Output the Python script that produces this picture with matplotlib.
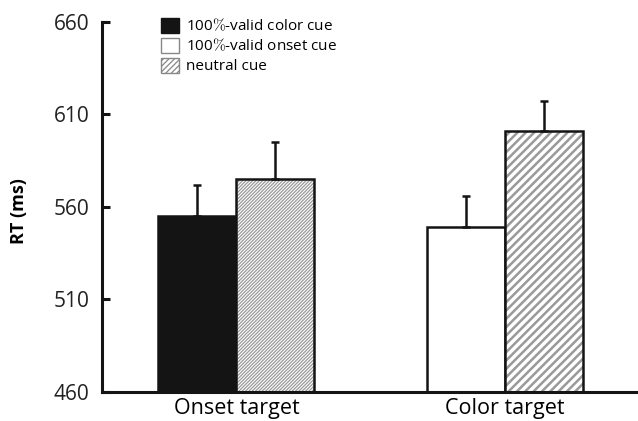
import numpy as np
import matplotlib.pyplot as plt
from matplotlib.patches import Patch

plt.rcParams['font.family'] = ['Open Sans', 'DejaVu Sans']
plt.rcParams['mathtext.fontset'] = 'cm'
plt.rcParams['hatch.linewidth'] = 0.9

# data
targets = ['Onset target', 'Color target']
valid_rt = [555, 549]        # 100%-valid cue (color cue for onset target, onset cue for color target)
valid_err = [17, 17]
neutral_rt = [575, 601]
neutral_err = [20, 16]
legend_labels = [r'100$\%$-valid color cue', r'100$\%$-valid onset cue', 'neutral cue']

fig = plt.figure(figsize=(6.38, 4.21), dpi=100)
ax = fig.add_axes([0.16, 0.069, 0.838, 0.879])

x = np.arange(len(targets))
w = 0.29
bw = 1.8
dark = '#141414'
hatch_col = '#9a9a9a'
base = 460

# valid bars: black for onset target, white for color target
ax.bar(x[0] - w/2, valid_rt[0] - base, w, bottom=base, color=dark, edgecolor=dark, linewidth=bw, zorder=2)
ax.bar(x[1] - w/2, valid_rt[1] - base, w, bottom=base, color='white', edgecolor=dark, linewidth=bw, zorder=2)

# neutral bars: grey hatch, then black outline on top
ax.bar(x[0] + w/2, neutral_rt[0] - base, w, bottom=base, color='white', edgecolor=hatch_col,
       linewidth=0, hatch='//////////', zorder=2)
b2 = ax.bar(x[1] + w/2, neutral_rt[1] - base, w, bottom=base, color='white', edgecolor=hatch_col,
            linewidth=0, hatch='////', zorder=2)
if hasattr(b2.patches[0], 'set_hatch_linewidth'):
    b2.patches[0].set_hatch_linewidth(1.8)
ax.bar(x + w/2, np.array(neutral_rt) - base, w, bottom=base, fill=False, edgecolor=dark,
       linewidth=bw, zorder=2.5)

ax.errorbar(x - w/2, valid_rt, yerr=[np.zeros(2), valid_err], fmt='none', ecolor=dark,
            elinewidth=1.8, capsize=3.2, capthick=1.8, zorder=3)
ax.errorbar(x + w/2, neutral_rt, yerr=[np.zeros(2), neutral_err], fmt='none', ecolor=dark,
            elinewidth=1.8, capsize=3.2, capthick=1.8, zorder=3)

ax.set_xlim(-0.5, 1.49)
ax.set_ylim(base, 660)
ax.set_yticks([460, 510, 560, 610, 660])
ax.set_xticks(x)
ax.set_xticklabels(targets, fontsize=15.5)
ax.tick_params(axis='x', length=0, pad=4)
ax.tick_params(axis='y', direction='in', length=6, width=2.2, labelsize=15, pad=9, colors=dark,
               labelcolor='#222222')
ax.set_ylabel('RT (ms)', fontsize=13, fontweight='bold')
ax.yaxis.set_label_coords(-0.138, 0.49)

for s in ['top', 'right']:
    ax.spines[s].set_visible(False)
for s in ['left', 'bottom']:
    ax.spines[s].set_linewidth(2.2)
    ax.spines[s].set_color(dark)

handles = [Patch(facecolor=dark, edgecolor=dark),
           Patch(facecolor='white', edgecolor='#888888'),
           Patch(facecolor='white', edgecolor='#888888', hatch='//////')]
leg = ax.legend(handles, legend_labels, loc='upper left', bbox_to_anchor=(0.085, 1.048),
                frameon=False, fontsize=11, handlelength=1.15, handleheight=1.15,
                handletextpad=0.5, labelspacing=0.2)

fig.savefig('out.png', dpi=100)
